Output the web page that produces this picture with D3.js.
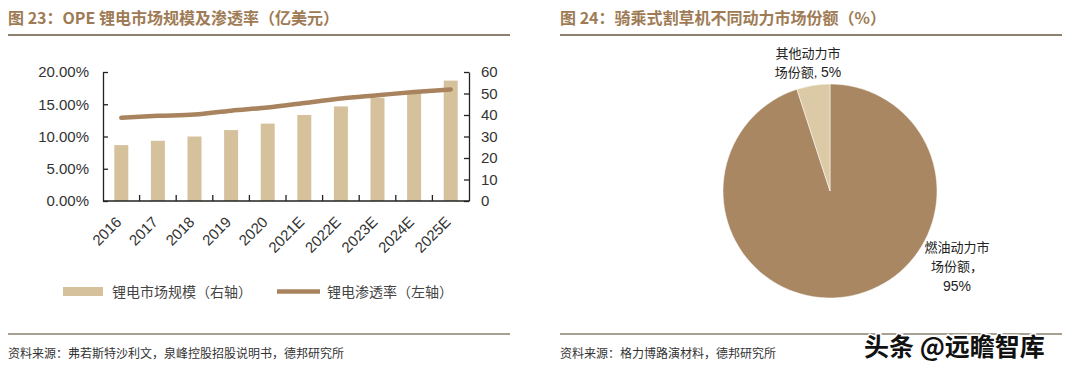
<!DOCTYPE html>
<html><head><meta charset="utf-8">
<script src="https://cdn.jsdelivr.net/npm/d3@7/dist/d3.min.js"></script>
<style>
html,body{margin:0;padding:0;background:#fff;}
svg{display:block;}
text{font-family:"Liberation Sans","Noto Sans CJK SC",sans-serif;}
.cjk{font-family:"Noto Sans CJK SC",sans-serif;}
</style></head>
<body>
<svg id="c" width="1080" height="368"></svg>
<script>
const years = ["2016","2017","2018","2019","2020","2021E","2022E","2023E","2024E","2025E"];
const marketSize = [26,28,30,33,36,40,44,48,51,56];
const penetration = [0.129,0.132,0.134,0.140,0.145,0.152,0.159,0.164,0.169,0.173];
const leftTicks = [0,0.05,0.10,0.15,0.20];
const rightTicks = [0,10,20,30,40,50,60];
const pieLabels = ["燃油动力市场份额","其他动力市场份额"];
const pieValues = [95,5];

const title1 = "图 23：OPE 锂电市场规模及渗透率（亿美元）";
const title2 = "图 24：骑乘式割草机不同动力市场份额（%）";
const source1 = "资料来源：弗若斯特沙利文，泉峰控股招股说明书，德邦研究所";
const source2 = "资料来源：格力博路演材料，德邦研究所";

const svg = d3.select("#c");
const brown = "#9e7b55";
const barColor = "#d5c29c";
const lineColor = "#a8835d";
const ruleColor = "#8c8070";

svg.append("text").attr("class","cjk").attr("x",8).attr("y",24).attr("font-size",16).attr("font-weight","bold").attr("fill",brown).text(title1);
svg.append("text").attr("class","cjk").attr("x",560).attr("y",24).attr("font-size",16).attr("font-weight","bold").attr("fill",brown).text(title2);
[[8,510],[560,1062]].forEach(([a,b])=>{
  svg.append("line").attr("x1",a).attr("x2",b).attr("y1",35).attr("y2",35).attr("stroke",ruleColor).attr("stroke-width",2);
  svg.append("line").attr("x1",a).attr("x2",b).attr("y1",334).attr("y2",334).attr("stroke",ruleColor).attr("stroke-width",1.5);
});
svg.append("text").attr("class","cjk").attr("x",8).attr("y",358).attr("font-size",12).attr("fill","#333").text(source1);
svg.append("text").attr("class","cjk").attr("x",560).attr("y",358).attr("font-size",12).attr("fill","#333").text(source2);

const L=103,R=469,T=72,B=201;
const xc = d3.scaleBand().domain(years).range([L,R]);
const yR = d3.scaleLinear().domain([0,60]).range([B,T]);
const yL = d3.scaleLinear().domain([0,0.20]).range([B,T]);

const g = svg.append("g");
g.selectAll("rect.bar").data(years).join("rect").attr("class","bar")
  .attr("x",d=>xc(d)+xc.bandwidth()/2-7).attr("width",14)
  .attr("y",(d,i)=>yR(marketSize[i])).attr("height",(d,i)=>B-yR(marketSize[i]))
  .attr("fill",barColor);

const line = d3.line().x((d,i)=>xc(years[i])+xc.bandwidth()/2).y(d=>yL(d)).curve(d3.curveMonotoneX);
g.append("path").datum(penetration).attr("d",line).attr("fill","none").attr("stroke",lineColor).attr("stroke-width",4.5).attr("stroke-linecap","round");

const axL = d3.axisLeft(yL).tickValues(leftTicks).tickFormat(d3.format(".2%")).tickSizeInner(-5).tickSizeOuter(0).tickPadding(14);
const gl = g.append("g").attr("transform",`translate(${L},0)`).call(axL);
const axR = d3.axisRight(yR).tickValues(rightTicks).tickSizeInner(-5).tickSizeOuter(0).tickPadding(12);
const gr = g.append("g").attr("transform",`translate(${R},0)`).call(axR);
[gl,gr].forEach(a=>{a.select(".domain").attr("stroke","#222").attr("stroke-width",1.3);a.selectAll(".tick line").attr("stroke","#222").attr("stroke-width",1.3);a.selectAll("text").attr("font-size",15).attr("fill","#333").attr("font-family","Liberation Sans, sans-serif");});

g.append("line").attr("x1",L).attr("x2",R).attr("y1",B).attr("y2",B).attr("stroke","#222").attr("stroke-width",1.3);
g.selectAll("line.xt").data(years.slice(1)).join("line").attr("class","xt")
  .attr("x1",d=>xc(d)).attr("x2",d=>xc(d)).attr("y1",B).attr("y2",B-6).attr("stroke","#222").attr("stroke-width",1.3);
g.selectAll("text.xl").data(years).join("text").attr("class","xl")
  .attr("transform",d=>`translate(${xc(d)+xc.bandwidth()/2+1},${B+22}) rotate(-45)`)
  .attr("text-anchor","end").attr("font-size",15).attr("fill","#333").text(d=>d);

svg.append("rect").attr("x",63).attr("y",287).attr("width",40).attr("height",9).attr("fill",barColor);
svg.append("text").attr("class","cjk").attr("x",112).attr("y",297).attr("font-size",14).attr("fill","#444").text("锂电市场规模（右轴）");
svg.append("line").attr("x1",277).attr("x2",320).attr("y1",291.5).attr("y2",291.5).attr("stroke",lineColor).attr("stroke-width",4.5);
svg.append("text").attr("class","cjk").attr("x",327).attr("y",297).attr("font-size",14).attr("fill","#444").text("锂电渗透率（左轴）");

const cx=830, cy=191, r=107;
const pie = d3.pie().sort(null).value(d=>d);
const arcs = pie(pieValues);
const arc = d3.arc().innerRadius(0).outerRadius(r);
const pg = svg.append("g").attr("transform",`translate(${cx},${cy})`);
const pieColors = ["#a98762","#dccaa6"];
pg.selectAll("path").data(arcs).join("path").attr("d",arc).attr("fill",(d,i)=>pieColors[i]).attr("stroke","#fff").attr("stroke-width",0.5);

const lab = svg.append("g").attr("class","cjk").attr("font-size",13).attr("fill","#222").attr("text-anchor","middle");
const l2 = lab.append("text").attr("x",808).attr("y",58);
l2.append("tspan").attr("x",808).text(pieLabels[1].slice(0,5));
l2.append("tspan").attr("x",808).attr("dy",19).text(pieLabels[1].slice(5)+", ").append("tspan").attr("font-family","Liberation Sans").attr("font-size",14).text(pieValues[1]+"%");
const l1 = lab.append("text").attr("x",957).attr("y",252);
l1.append("tspan").attr("x",957).text(pieLabels[0].slice(0,5));
l1.append("tspan").attr("x",957).attr("dy",19).text(pieLabels[0].slice(5)+"，");
l1.append("tspan").attr("x",957).attr("dy",20).attr("font-family","Liberation Sans").attr("font-size",14).text(pieValues[0]+"%");

svg.append("text").attr("class","cjk").attr("x",864).attr("y",356).attr("font-size",25).attr("font-weight","bold").attr("fill","#111")
  .attr("stroke","#fff").attr("stroke-width",3).attr("paint-order","stroke").text("头条 @远瞻智库");
</script>
</body></html>
